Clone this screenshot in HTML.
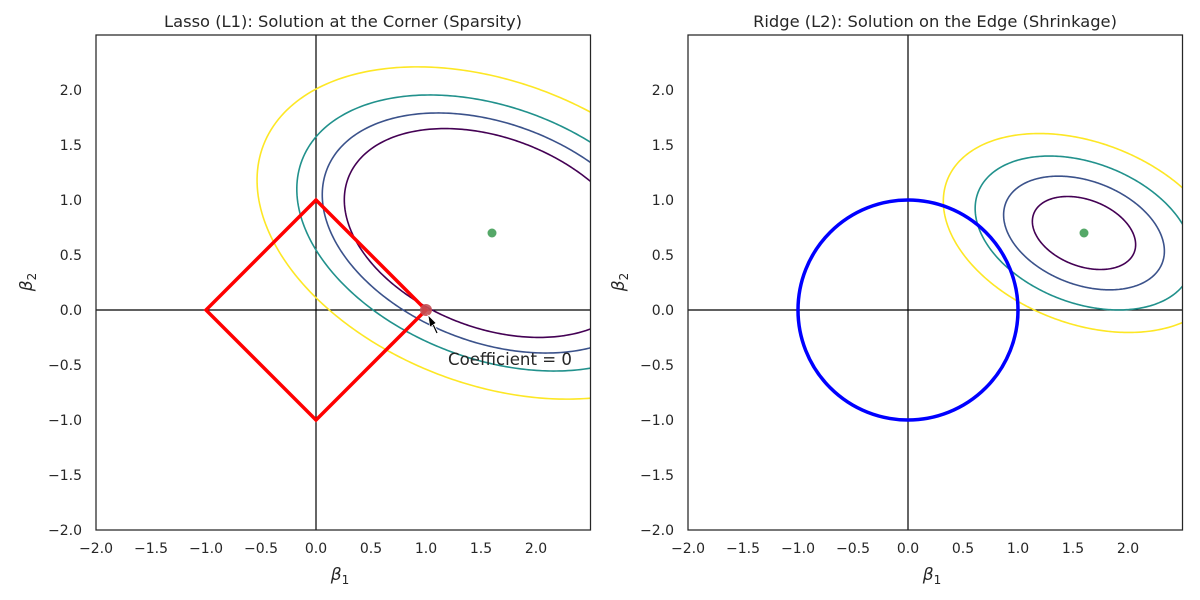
<!DOCTYPE html>
<html><head><meta charset="utf-8"><style>
html,body{margin:0;padding:0;background:#fff;}
svg{display:block;font-family:"DejaVu Sans","Liberation Sans",sans-serif;}
</style></head><body>
<svg id="s" width="1200" height="600" xmlns="http://www.w3.org/2000/svg">
<defs>
<clipPath id="c1"><rect x="96" y="35" width="494.5" height="495"/></clipPath>
<clipPath id="c2"><rect x="688" y="35" width="494.5" height="495"/></clipPath>
</defs>
<g id="g1" clip-path="url(#c1)"></g>
<g id="g2" clip-path="url(#c2)"></g>
<g id="axes"></g>
</svg>
<script>
const NS="http://www.w3.org/2000/svg";
function el(p,t,a,txt){const e=document.createElementNS(NS,t);for(const k in a)e.setAttribute(k,a[k]);if(txt!==undefined)e.textContent=txt;p.appendChild(e);return e;}
const A={a:1,b:2,c:0.45};
function ell(g,x0,cx,cy,L,col,w){
  let d="";
  for(let i=0;i<=360;i++){const t=i*Math.PI/180,u=Math.cos(t),v=Math.sin(t);
    const q=A.a*u*u+2*A.c*u*v+A.b*v*v,r=Math.sqrt(L/q);
    const X=x0+(cx+r*u)*110,Y=310-(cy+r*v)*110;d+=(i?"L":"M")+X.toFixed(2)+" "+Y.toFixed(2);}
  el(g,"path",{d:d,fill:"none",stroke:col,"stroke-width":w||1.6});
}
const g1=document.getElementById("g1"),g2=document.getElementById("g2"),ax=document.getElementById("axes");
const cols=["#440154","#3b528b","#21918c","#fde725"];
[[g1,316],[g2,908]].forEach(([g,x0])=>{
  el(g,"line",{x1:x0-220,y1:310,x2:x0+280,y2:310,stroke:"#000","stroke-width":1.2});
  el(g,"line",{x1:x0,y1:30,x2:x0,y2:535,stroke:"#000","stroke-width":1.2});
});
[1.62,2.14,2.83,4.1].forEach((L,i)=>ell(g1,316,1.6,0.7,L,cols[i]));
[0.198,0.48,0.88,1.47].forEach((L,i)=>ell(g2,908,1.6,0.7,L,cols[i]));
el(g1,"polygon",{points:"426,310 316,200 206,310 316,420",fill:"none",stroke:"#ff0000","stroke-width":3.5});
el(g2,"circle",{cx:908,cy:310,r:110,fill:"none",stroke:"#0000ff","stroke-width":3.5});
el(g1,"circle",{cx:492,cy:233,r:4.5,fill:"#55a868"});
el(g2,"circle",{cx:1084,cy:233,r:4.5,fill:"#55a868"});
el(g1,"circle",{cx:426,cy:310,r:6,fill:"#c44e52","fill-opacity":0.9});
el(g1,"line",{x1:437,y1:333,x2:431,y2:320,stroke:"#fff","stroke-width":3});
el(g1,"line",{x1:437,y1:333,x2:431,y2:320,stroke:"#000","stroke-width":1.2});
el(g1,"polygon",{points:"428,315 436,323 430,327",fill:"#000",stroke:"#fff","stroke-width":0.6});
el(ax,"text",{x:448,y:365,"font-size":16.6,fill:"#262626"},"Coefficient = 0");
const titles=["Lasso (L1): Solution at the Corner (Sparsity)","Ridge (L2): Solution on the Edge (Shrinkage)"];
[96,688].forEach((L,k)=>{
  el(ax,"rect",{x:L,y:35,width:494.5,height:495,fill:"none",stroke:"#262626","stroke-width":1.25});
  const x0=L+220;
  for(let v=-2;v<=2.01;v+=0.5){
    const lab=(v<0?"\u2212":"")+Math.abs(v).toFixed(1);
    el(ax,"text",{x:x0+v*110,y:553,"font-size":14,fill:"#262626","text-anchor":"middle"},lab);
    el(ax,"text",{x:L-14,y:310-v*110+5,"font-size":14,fill:"#262626","text-anchor":"end"},lab);
  }
  el(ax,"text",{x:L+247,y:27,"font-size":16.3,fill:"#262626","text-anchor":"middle"},titles[k]);
  const t=el(ax,"text",{x:x0+24,y:580,"font-size":17,fill:"#262626","font-style":"italic","text-anchor":"middle"},"β");
  el(t,"tspan",{dy:4,"font-size":12,"font-style":"normal"},"1");
  const t2=el(ax,"text",{transform:`translate(${L-64},282) rotate(-90)`,"font-size":17,fill:"#262626","font-style":"italic","text-anchor":"middle"},"β");
  el(t2,"tspan",{dy:4,"font-size":12,"font-style":"normal"},"2");
});
</script>
</body></html>
